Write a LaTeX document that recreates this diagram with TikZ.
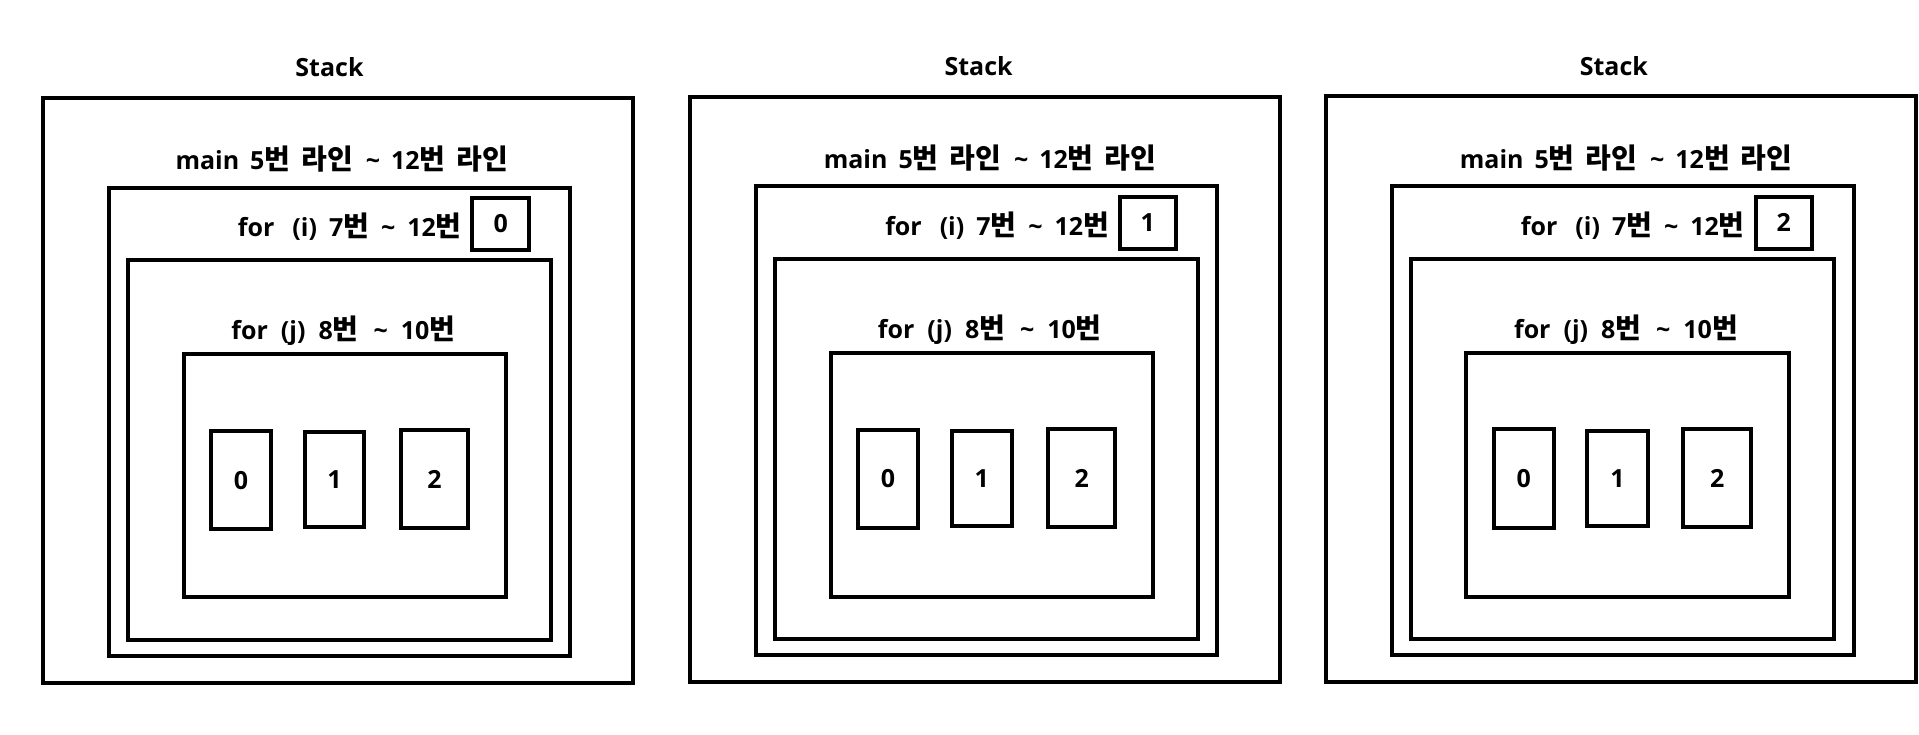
\documentclass[tikz,border=0pt]{standalone}
\usepackage{fontspec}
\setmainfont{Open Sans}
\newfontfamily\latf{Open Sans}
\newfontfamily\hgf{Noto Sans CJK KR}
\newcommand\hg[1]{{\hgf\fontsize{28}{30}\selectfont #1}}
\newcommand\tld{\textasciitilde}
\newcommand\gap{\hspace{11pt}}
\newcommand\bx[6]{\node[boxst, minimum width={#4-#2}, minimum height={#5-#3}] (#1) at ({(#2+#4)/2},{(#3+#5)/2}) {#6};}
\newcommand\mainlbl{main\gap 5\hg{번}\gap\hg{라인}\gap\hspace{2pt}\tld\gap 12\hg{번}\gap\hg{라인}}
\newcommand\ilbl{for\hspace{18pt}(i)\hspace{12pt}7\hg{번}\hspace{12pt}\tld\hspace{12pt}12\hg{번}}
\newcommand\jlbl{for\hspace{13pt}(j)\hspace{13pt}8\hg{번}\hspace{15pt}\tld\hspace{13pt}10\hg{번}}
\begin{document}
\begin{tikzpicture}[x=1pt,y=-1pt,
  boxst/.style={draw, line width=4pt, inner sep=0pt, font=\latf\bfseries\fontsize{25}{28}\selectfont},
  lbl/.style={inner sep=0pt, anchor=base, font=\latf\bfseries\fontsize{25}{28}\selectfont}]
\useasboundingbox[fill=white] (0,0) rectangle (1919,734);
% ---------- panel 1 ----------
\node[lbl] (s1) at (329.5,76) {Stack};
\bx{o1}{42.9}{97.6}{632.8}{682.8}{}
\node[lbl] (m1t) at (341.7,169) {\mainlbl};
\bx{m1}{108.8}{187.5}{569.9}{655.8}{}
\node[lbl] (i1t) at (349.8,236.5) {\ilbl};
\bx{iv1}{472.3}{198.3}{529.1}{249.7}{0}
\bx{f1}{128}{260.3}{551}{639.5}{}
\node[lbl] (j1t) at (343.3,339) {\jlbl};
\bx{j1}{183.9}{354.1}{505.9}{597.3}{}
\bx{c10}{210.9}{431.1}{271.1}{529.4}{0}
\bx{c11}{304.7}{432.1}{364.1}{527.1}{1}
\bx{c12}{401.1}{430}{468.1}{528}{2}
% ---------- panel 2 ----------
\node[lbl] (s2) at (978.6,75) {Stack};
\bx{o2}{689.5}{96.7}{1279.6}{681.8}{}
\node[lbl] (m2t) at (990,168) {\mainlbl};
\bx{m2}{756}{186.3}{1217.3}{655.4}{}
\node[lbl] (i2t) at (997.1,235.5) {\ilbl};
\bx{iv2}{1119.6}{196.8}{1176}{248.8}{1}
\bx{f2}{774.5}{258.9}{1198.3}{638.5}{}
\node[lbl] (j2t) at (989.8,338.5) {\jlbl};
\bx{j2}{830.5}{353}{1152.9}{597.3}{}
\bx{c20}{857.8}{429.7}{918}{528}{0}
\bx{c21}{952.1}{431.1}{1011.5}{526.2}{1}
\bx{c22}{1048.1}{429}{1115.4}{527.1}{2}
% ---------- panel 3 ----------
\node[lbl] (s3) at (1613.8,75) {Stack};
\bx{o3}{1325.7}{96.2}{1915.7}{681.8}{}
\node[lbl] (m3t) at (1626.1,168) {\mainlbl};
\bx{m3}{1391.6}{186.3}{1853.5}{655.4}{}
\node[lbl] (i3t) at (1632.8,235.5) {\ilbl};
\bx{iv3}{1755.6}{196.8}{1812}{248.8}{2}
\bx{f3}{1410.9}{258.9}{1834.1}{638.5}{}
\node[lbl] (j3t) at (1625.9,338.5) {\jlbl};
\bx{j3}{1466.2}{353}{1789.1}{597.3}{}
\bx{c30}{1493.8}{429.3}{1553.5}{528}{0}
\bx{c31}{1587.4}{430.7}{1647.8}{526.2}{1}
\bx{c32}{1683.3}{429}{1751.2}{527.1}{2}
\end{tikzpicture}
\end{document}
